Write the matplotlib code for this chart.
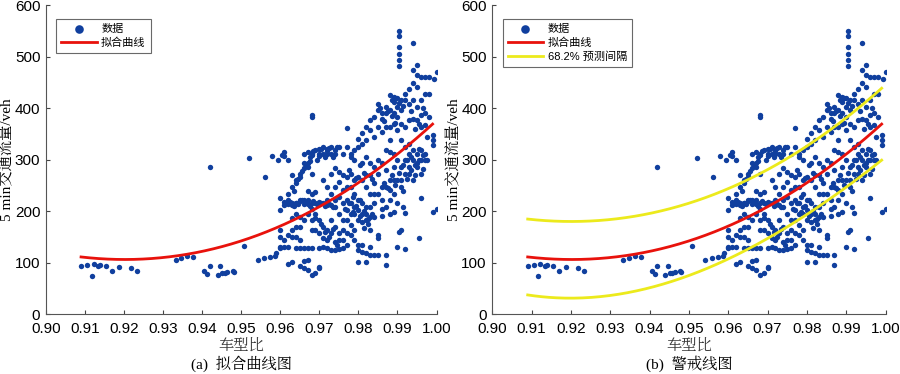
import matplotlib
matplotlib.use('Agg')
import matplotlib.pyplot as plt
import numpy as np

plt.rcParams['font.family'] = ['Liberation Sans', 'Noto Sans CJK SC']

# 散点数据 (车型比, 5 min 交通流量)
ratio = [
    0.909, 0.9106, 0.9117, 0.9122, 0.9134, 0.9138, 0.9154, 0.917, 0.9187, 0.9218, 0.9234,
    0.9332, 0.9347, 0.9362, 0.9377,
    0.9406, 0.9413, 0.942, 0.942, 0.944, 0.9447, 0.9451, 0.9458, 0.9464, 0.9478, 0.9481,
    0.9507, 0.952, 0.9542, 0.9558, 0.956, 0.9573, 0.9578, 0.9587, 0.959,
    0.960, 0.960, 0.960, 0.960, 0.960, 0.960, 0.9595, 0.9605,
    0.961, 0.961, 0.961, 0.961, 0.961, 0.961,
    0.962, 0.962, 0.962, 0.962, 0.962, 0.962, 0.962,
    0.963, 0.963, 0.963, 0.963, 0.963, 0.963, 0.963, 0.963,
    0.964, 0.964, 0.964, 0.964, 0.964, 0.964, 0.964, 0.964,
    0.965, 0.965, 0.965, 0.965, 0.965, 0.965, 0.965, 0.965, 0.965,
    0.966, 0.966, 0.966, 0.966, 0.966, 0.966, 0.966, 0.966, 0.966,
    0.967, 0.967, 0.967, 0.967, 0.967, 0.967, 0.967, 0.967, 0.967, 0.967,
    0.968, 0.968, 0.968, 0.968, 0.968, 0.968, 0.968, 0.968, 0.968, 0.968, 0.968,
    0.969, 0.969, 0.969, 0.969, 0.969, 0.969, 0.969,
    0.970, 0.970, 0.970, 0.970, 0.970, 0.970, 0.970, 0.970, 0.970,
    0.971, 0.971, 0.971, 0.971, 0.971, 0.971, 0.971,
    0.972, 0.972, 0.972, 0.972, 0.972, 0.972, 0.972, 0.972,
    0.973, 0.973, 0.973, 0.973, 0.973, 0.973, 0.973, 0.973,
    0.974, 0.974, 0.974, 0.974, 0.974, 0.974, 0.974, 0.974,
    0.975, 0.975, 0.975, 0.975, 0.975, 0.975, 0.975, 0.975,
    0.976, 0.976, 0.976, 0.976, 0.976, 0.976, 0.976, 0.976,
    0.977, 0.977, 0.977, 0.977, 0.977, 0.977, 0.977, 0.977, 0.977,
    0.978, 0.978, 0.978, 0.978, 0.978, 0.978, 0.978, 0.978,
    0.979, 0.979, 0.979, 0.979, 0.979, 0.979, 0.979, 0.979,
    0.980, 0.980, 0.980, 0.980, 0.980, 0.980, 0.980, 0.980, 0.980,
    0.981, 0.981, 0.981, 0.981, 0.981, 0.981, 0.981, 0.981, 0.981,
    0.982, 0.982, 0.982, 0.982, 0.982, 0.982, 0.982, 0.982, 0.982, 0.982,
    0.983, 0.983, 0.983, 0.983, 0.983, 0.983, 0.983, 0.983, 0.983, 0.983,
    0.984, 0.984, 0.984, 0.984, 0.984, 0.984, 0.984, 0.984,
    0.985, 0.985, 0.985, 0.985, 0.985, 0.985, 0.985, 0.985, 0.985,
    0.986, 0.986, 0.986, 0.986, 0.986, 0.986, 0.986, 0.986,
    0.987, 0.987, 0.987, 0.987, 0.987, 0.987, 0.987, 0.987, 0.987,
    0.988, 0.988, 0.988, 0.988, 0.988, 0.988, 0.988, 0.988, 0.988,
    0.989, 0.989, 0.989, 0.989, 0.989, 0.989, 0.989, 0.989, 0.989,
    0.9905, 0.9905, 0.9905, 0.9905, 0.9905, 0.9905, 0.990, 0.990, 0.990, 0.990, 0.990, 0.990, 0.990, 0.990,
    0.991, 0.991, 0.991, 0.991, 0.991, 0.991, 0.991, 0.9905, 0.991,
    0.992, 0.992, 0.992, 0.992, 0.992, 0.992, 0.992, 0.992, 0.9915,
    0.993, 0.993, 0.993, 0.993, 0.993, 0.993, 0.993,
    0.994, 0.994, 0.994, 0.994, 0.994, 0.994, 0.994, 0.994,
    0.995, 0.995, 0.995, 0.995, 0.995, 0.995, 0.995, 0.995, 0.9956,
    0.996, 0.996, 0.996, 0.996, 0.996, 0.996, 0.996, 0.996,
    0.997, 0.997, 0.997, 0.997, 0.997, 0.997,
    0.998, 0.998, 0.998,
    0.999, 0.999, 0.999, 0.999, 0.9994,
    1.000, 1.000,
]
flow = [
    94, 95, 74, 97, 94, 96, 94, 84, 91, 90, 83,
    105, 109, 113, 111,
    84, 78, 93, 285, 76, 94, 79, 80, 82, 84, 82,
    133, 303, 105, 110, 267, 111, 308, 113, 118,
    202, 225, 131, 150, 163, 128, 300, 310,
    218, 212, 131, 144, 314, 307,
    221, 214, 234, 98, 153, 131, 299,
    270, 247, 215, 212, 102, 163, 150, 186,
    254, 260, 215, 216, 195, 170, 150, 128,
    267, 273, 221, 219, 170, 128, 94, 144, 189,
    283, 293, 221, 214, 183, 128, 104, 89, 312,
    293, 286, 221, 214, 195, 315, 85, 128, 105, 240,
    312, 273, 215, 205, 386, 383, 183, 76, 128, 163, 234,
    318, 238, 215, 195, 79, 163, 186,
    321, 218, 215, 157, 92, 89, 128, 183, 308,
    325, 215, 260, 147, 170, 131, 312,
    321, 247, 221, 212, 163, 128, 144, 311,
    325, 273, 234, 212, 183, 157, 124, 311,
    312, 283, 247, 221, 208, 170, 140, 124,
    325, 276, 257, 228, 195, 157, 144, 126,
    312, 270, 241, 215, 183, 163, 144, 128,
    362, 325, 267, 247, 221, 202, 183, 157, 134,
    312, 306, 273, 247, 215, 195, 173, 153,
    318, 299, 260, 234, 208, 195, 163, 144,
    341, 325, 267, 221, 202, 183, 134, 102, 124,
    351, 331, 293, 260, 215, 195, 179, 121, 134,
    364, 338, 306, 270, 247, 208, 195, 183, 102, 118,
    377, 357, 293, 270, 234, 208, 189, 163, 131, 115,
    383, 344, 286, 254, 234, 215, 189, 115,
    409, 396, 364, 299, 273, 234, 153, 147, 115,
    390, 380, 354, 293, 247, 221, 205, 190,
    403, 390, 364, 318, 280, 247, 208, 115, 96,
    425, 396, 364, 338, 315, 260, 241, 221, 195,
    422, 412, 390, 370, 312, 286, 260, 234, 199,
    550, 540, 519, 506, 493, 482, 419, 403, 383, 357, 299, 260, 215, 131,
    415, 396, 370, 338, 286, 260, 247, 160, 163,
    428, 415, 364, 325, 299, 273, 197, 126, 208,
    438, 409, 377, 331, 312, 286, 273,
    527, 474, 448, 415, 380, 318, 299, 260,
    483, 464, 441, 403, 377, 312, 293, 286, 148,
    461, 415, 386, 364, 318, 299, 225, 273,
    461, 428, 390, 367, 312, 299,
    461, 428, 383,
    348, 338, 328, 199, 456,
    470, 205,
]

# 密集区域补充读点
ratio_dense = [
    0.9625, 0.9635, 0.9645, 0.9655, 0.9665, 0.9675, 0.9685, 0.9695, 0.9705, 0.9715, 0.9725, 0.9735,
    0.9675, 0.968, 0.9685, 0.9695, 0.970, 0.9705, 0.9715, 0.972, 0.9725, 0.9735, 0.974, 0.9745,
    0.9635, 0.9645, 0.9655, 0.9665, 0.9675,
    0.9765, 0.9775, 0.9785, 0.9795, 0.9805, 0.9815, 0.9825, 0.9835, 0.9785, 0.9805, 0.9825, 0.9815,
    0.9775, 0.9795, 0.9815, 0.9835, 0.9805,
    0.9855, 0.9865, 0.9875, 0.9885, 0.9895, 0.9905, 0.9915, 0.9885, 0.9895,
    0.9865, 0.9875, 0.9885, 0.9895, 0.9905, 0.9915, 0.9925, 0.9935, 0.9945,
    0.9955, 0.9965, 0.9975, 0.9935, 0.9945, 0.9955, 0.9965, 0.9925, 0.9915,
    0.9935, 0.9945, 0.9955, 0.9965, 0.9975,
    0.9705, 0.9715, 0.9725, 0.9735, 0.9745,
]
flow_dense = [
    218, 210, 213, 222, 217, 210, 220, 213, 216, 211, 214, 209,
    305, 310, 316, 300, 311, 320, 306, 316, 323, 305, 318, 324,
    240, 262, 278, 288, 298,
    205, 215, 198, 210, 190, 200, 185, 195, 228, 222, 175, 168,
    280, 265, 275, 262, 290,
    400, 375, 395, 415, 420, 410, 405, 385, 372,
    255, 245, 270, 250, 275, 290, 300, 305, 290,
    300, 310, 300, 280, 270, 320, 282, 262, 240,
    395, 360, 370, 400, 345,
    175, 160, 150, 165, 135,
]

# 拟合曲线及 68.2% 预测区间
fit_x = [0.909, 0.92, 0.93, 0.94, 0.95, 0.96, 0.97, 0.98, 0.99, 0.999]
fit_y = [111, 105.5, 111, 123, 142, 170, 207, 255, 315, 367]
upper_y = [186, 178, 183, 196, 217, 245, 280, 326, 380, 440]
lower_y = [36, 32, 39, 51, 74, 105, 145, 196, 251, 296]

xticks = np.arange(0.90, 1.001, 0.01)
yticks = [0, 100, 200, 300, 400, 500, 600]

all_x = ratio + ratio_dense
all_y = flow + flow_dense

xs = np.linspace(fit_x[0], fit_x[-1], 200)
fit_s = np.polyval(np.polyfit(fit_x, fit_y, 3), xs)
up_s = np.polyval(np.polyfit(fit_x, upper_y, 3), xs)
lo_s = np.polyval(np.polyfit(fit_x, lower_y, 3), xs)

dot_c = '#103f9e'
red_c = '#e8120c'
yel_c = '#ecea1c'

fig = plt.figure(figsize=(9, 3.74), dpi=100)
ax1 = fig.add_axes([0.051, 0.160, 0.434, 0.826])
ax2 = fig.add_axes([0.547, 0.160, 0.437, 0.826])

serif_cjk = ['Liberation Serif', 'Noto Serif CJK SC', 'Noto Sans CJK SC']

for ax, show_pi, cap in [(ax1, False, '(a)  拟合曲线图'), (ax2, True, '(b)  警戒线图')]:
    ax.scatter(all_x, all_y, s=15, color=dot_c, linewidths=0, label='数据', zorder=2)
    ax.plot(xs, fit_s, color=red_c, lw=2, label='拟合曲线', zorder=3)
    if show_pi:
        ax.plot(xs, up_s, color=yel_c, lw=2, label='68.2% 预测间隔', zorder=3)
        ax.plot(xs, lo_s, color=yel_c, lw=2, zorder=3)
    ax.set_xlim(0.90, 1.00)
    ax.set_ylim(0, 600)
    ax.set_xticks(xticks)
    ax.set_xticklabels(['%.2f' % v for v in xticks])
    ax.set_yticks(yticks)
    ax.tick_params(direction='in', length=3, labelsize=11, color='#444444', pad=4)
    ax.tick_params(axis='x', pad=6)
    for s in ['top', 'right']:
        ax.spines[s].set_visible(False)
    for s in ['left', 'bottom']:
        ax.spines[s].set_color('#555555')
        ax.spines[s].set_linewidth(0.8)
    ax.set_xlabel('车型比', family=serif_cjk, fontsize=11, color='#333333', labelpad=1)
    ax.set_ylabel('5 min交通流量/veh', family=serif_cjk, fontsize=11, labelpad=0)
    ax.text(0.5, -0.135, cap, transform=ax.transAxes, ha='center', va='top',
            family=serif_cjk, fontsize=11)
    leg = ax.legend(loc='upper left', bbox_to_anchor=(0.012, 0.975), fontsize=8,
                    frameon=True, fancybox=False, edgecolor='#444444',
                    handlelength=3.2, markerscale=1.6, borderpad=0.45,
                    labelspacing=0.35, handletextpad=0.4)
    leg.get_frame().set_linewidth(0.8)

fig.savefig('out.png', dpi=100)
